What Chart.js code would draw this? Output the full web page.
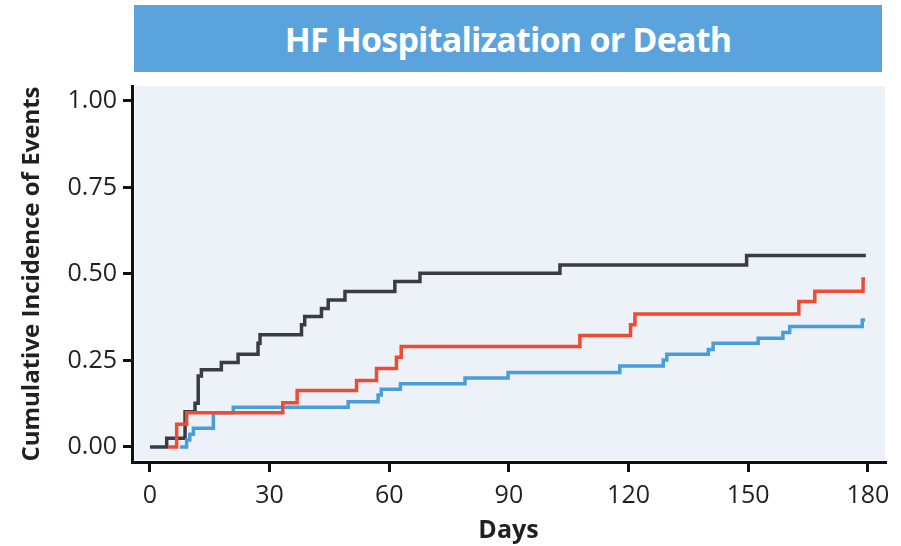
<!DOCTYPE html>
<html>
<head>
<meta charset="utf-8">
<script src="https://cdn.jsdelivr.net/npm/chart.js@4"></script>
<style>
  html, body { margin: 0; padding: 0; background: #ffffff; }
  #wrap { position: relative; width: 901px; height: 546px; overflow: hidden; }
  #banner {
    position: absolute; left: 134px; top: 5px; width: 748px; height: 67px;
    background: #5aa3dc; color: #ffffff;
    font-family: "Open Sans", "Noto Sans", sans-serif; font-weight: 700; font-size: 34px;
    letter-spacing: -0.8px;
    display: flex; align-items: center; justify-content: center;
  }
  canvas { position: absolute; left: 0; top: 0; }
</style>
</head>
<body>
<div id="wrap">
  <div id="banner">HF Hospitalization or Death</div>
  <canvas id="c" width="901" height="546"></canvas>
</div>
<script>
// ---- data ----
const titleText = "HF Hospitalization or Death";
const xAxisLabel = "Days";
const yAxisLabel = "Cumulative Incidence of Events";
const xTickValues = [0, 30, 60, 90, 120, 150, 180];
const yTickValues = [0, 0.25, 0.5, 0.75, 1.0];

// dark grey group: event days and cumulative incidence after each step
const darkDays   = [0, 4.2, 8.8, 11.3, 12.1, 12.9, 17.9, 22.1, 27.1, 27.6, 38.0, 38.8, 43.0, 44.7, 48.9, 61.4, 67.7, 102.8, 149.6, 179.5];
const darkValues = [0, 0.025, 0.102, 0.126, 0.205, 0.223, 0.244, 0.268, 0.300, 0.324, 0.353, 0.377, 0.400, 0.425, 0.449, 0.478, 0.502, 0.526, 0.553, 0.553];

// red group
const redDays   = [4.6, 6.7, 9.2, 33.3, 36.9, 51.8, 56.8, 61.8, 63.0, 107.8, 120.5, 121.6, 162.7, 166.7, 178.8, 179.3];
const redValues = [0, 0.066, 0.099, 0.128, 0.163, 0.192, 0.227, 0.259, 0.290, 0.322, 0.353, 0.384, 0.420, 0.450, 0.485, 0.485];

// blue group
const blueDays   = [7.5, 9.2, 10.0, 10.9, 15.9, 20.9, 49.7, 57.2, 58.0, 62.8, 79.0, 89.8, 117.8, 128.7, 129.6, 140.0, 141.2, 152.5, 158.7, 160.4, 178.6, 179.3];
const blueValues = [0, 0.020, 0.037, 0.054, 0.099, 0.115, 0.131, 0.150, 0.167, 0.183, 0.199, 0.215, 0.234, 0.251, 0.268, 0.282, 0.300, 0.314, 0.331, 0.348, 0.367, 0.367];

const seriesColors = { dark: "#3a3c41", red: "#f04b32", blue: "#4a9ddb" };

function toPoints(xs, ys) { return xs.map((x, i) => ({ x: x, y: ys[i] })); }

const plotBg = {
  id: "plotBg",
  beforeDraw(chart) {
    const a = chart.chartArea, ctx = chart.ctx;
    ctx.save();
    ctx.fillStyle = "#edf2f9";
    ctx.fillRect(a.left + 3, a.top, a.right - a.left - 3, a.bottom - a.top - 2);
    ctx.restore();
  }
};

const tickFont = { family: "'Open Sans', 'Noto Sans', sans-serif", size: 25, weight: "normal" };
const titleFont = { family: "'Open Sans', 'Noto Sans', sans-serif", size: 24, weight: "bold" };

new Chart(document.getElementById("c"), {
  type: "line",
  data: {
    datasets: [
      { label: "Red", data: toPoints(redDays, redValues), borderColor: seriesColors.red },
      { label: "Blue", data: toPoints(blueDays, blueValues), borderColor: seriesColors.blue },
      { label: "Dark", data: toPoints(darkDays, darkValues), borderColor: seriesColors.dark }
    ].map(d => Object.assign(d, { stepped: "before", borderWidth: 3.5, pointRadius: 0, fill: false, tension: 0, borderCapStyle: "butt", borderJoinStyle: "miter" }))
  },
  options: {
    responsive: false,
    animation: false,
    layout: { padding: { left: 18, right: 16, top: 86, bottom: 0 } },
    plugins: { legend: { display: false }, tooltip: { enabled: false }, title: { display: false } },
    scales: {
      x: {
        type: "linear",
        min: -4.5, max: 184.3,
        afterBuildTicks: s => { s.ticks = xTickValues.map(v => ({ value: v })); },
        afterFit: s => { s.height = 84; },
        ticks: { font: tickFont, color: "#231f20", padding: 9, maxRotation: 0, autoSkip: false },
        grid: { display: true, drawOnChartArea: false, drawTicks: true, tickLength: 10, lineWidth: 3, tickWidth: 3, color: "#111111" },
        border: { display: true, color: "#111111", width: 3 },
        title: { display: true, text: xAxisLabel, font: Object.assign({}, titleFont, { size: 25 }), color: "#231f20", padding: { top: 6, bottom: 0 } }
      },
      y: {
        type: "linear",
        min: -0.0434, max: 1.043,
        afterBuildTicks: s => { s.ticks = yTickValues.map(v => ({ value: v })); },
        afterFit: s => { s.width = 114; },
        ticks: { font: tickFont, color: "#231f20", padding: 6, callback: v => Number(v).toFixed(2) },
        grid: { display: true, drawOnChartArea: false, drawTicks: true, tickLength: 9, lineWidth: 3, tickWidth: 3, color: "#111111" },
        border: { display: true, color: "#111111", width: 3 },
        title: { display: true, text: yAxisLabel, font: titleFont, color: "#231f20", padding: { top: 0, bottom: 4 } }
      }
    }
  },
  plugins: [plotBg]
});
</script>
</body>
</html>
